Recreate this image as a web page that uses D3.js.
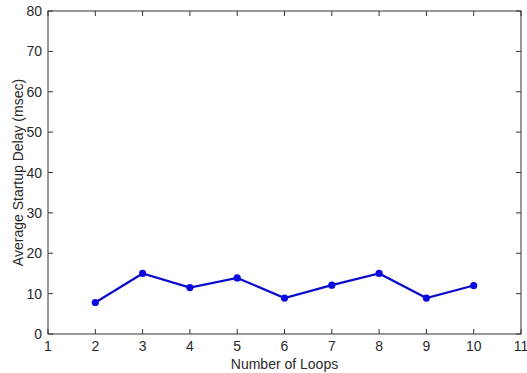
<!DOCTYPE html>
<html>
<head>
<meta charset="utf-8">
<script src="https://cdn.jsdelivr.net/npm/d3@7"></script>
<style>
  body { margin: 0; background: #fff; }
  text { font-family: "Liberation Sans", Arial, sans-serif; fill: #2a2a2a; }
</style>
</head>
<body>
<div id="chart"></div>
<script>
const width = 527;
const height = 373;

// data
const loops = [2, 3, 4, 5, 6, 7, 8, 9, 10];
const delays = [7.8, 15.0, 11.5, 13.9, 8.9, 12.1, 15.0, 8.9, 12.0];
const xTicks = [1, 2, 3, 4, 5, 6, 7, 8, 9, 10, 11];
const yTicks = [0, 10, 20, 30, 40, 50, 60, 70, 80];

const margin = { top: 11, right: 6, bottom: 39, left: 48 };
const innerW = width - margin.left - margin.right;
const innerH = height - margin.top - margin.bottom;

const svg = d3
  .select("#chart")
  .append("svg")
  .attr("width", width)
  .attr("height", height);

const g = svg
  .append("g")
  .attr("transform", `translate(${margin.left},${margin.top})`);

const x = d3.scaleLinear().domain([1, 11]).range([0, innerW]);
const y = d3.scaleLinear().domain([0, 80]).range([innerH, 0]);

// box
g.append("rect")
  .attr("width", innerW)
  .attr("height", innerH)
  .attr("fill", "none")
  .attr("stroke", "#333")
  .attr("stroke-width", 1);

// ticks pointing inward on all four sides
const tick = 5;
g.selectAll(".xt")
  .data(xTicks)
  .enter()
  .append("path")
  .attr("d", (d) => `M${x(d)},${innerH}v${-tick}M${x(d)},0v${tick}`)
  .attr("stroke", "#333");
g.selectAll(".yt")
  .data(yTicks)
  .enter()
  .append("path")
  .attr("d", (d) => `M0,${y(d)}h${tick}M${innerW},${y(d)}h${-tick}`)
  .attr("stroke", "#333");

// tick labels
g.selectAll(".xl")
  .data(xTicks)
  .enter()
  .append("text")
  .attr("x", (d) => x(d))
  .attr("y", innerH + 17)
  .attr("text-anchor", "middle")
  .style("font-size", "14px")
  .text((d) => d);
g.selectAll(".yl")
  .data(yTicks)
  .enter()
  .append("text")
  .attr("x", -6)
  .attr("y", (d) => y(d) + 5)
  .attr("text-anchor", "end")
  .style("font-size", "14px")
  .text((d) => d);

// axis titles
svg.append("text")
  .attr("x", margin.left + innerW / 2)
  .attr("y", 369)
  .attr("text-anchor", "middle")
  .style("font-size", "14px")
  .text("Number of Loops");
svg.append("text")
  .attr("transform", `translate(23,${margin.top + innerH / 2}) rotate(-90)`)
  .attr("text-anchor", "middle")
  .style("font-size", "14px")
  .text("Average Startup Delay (msec)");

// series
const pts = loops.map((d, i) => [d, delays[i]]);
const line = d3.line().x((d) => x(d[0])).y((d) => y(d[1]));
g.append("path")
  .datum(pts)
  .attr("d", line)
  .attr("fill", "none")
  .attr("stroke", "#0a0acc")
  .attr("stroke-width", 2.2);
g.selectAll(".pt")
  .data(pts)
  .enter()
  .append("circle")
  .attr("cx", (d) => x(d[0]))
  .attr("cy", (d) => y(d[1]))
  .attr("r", 3.6)
  .attr("fill", "#0a0ae0");
</script>
</body>
</html>
